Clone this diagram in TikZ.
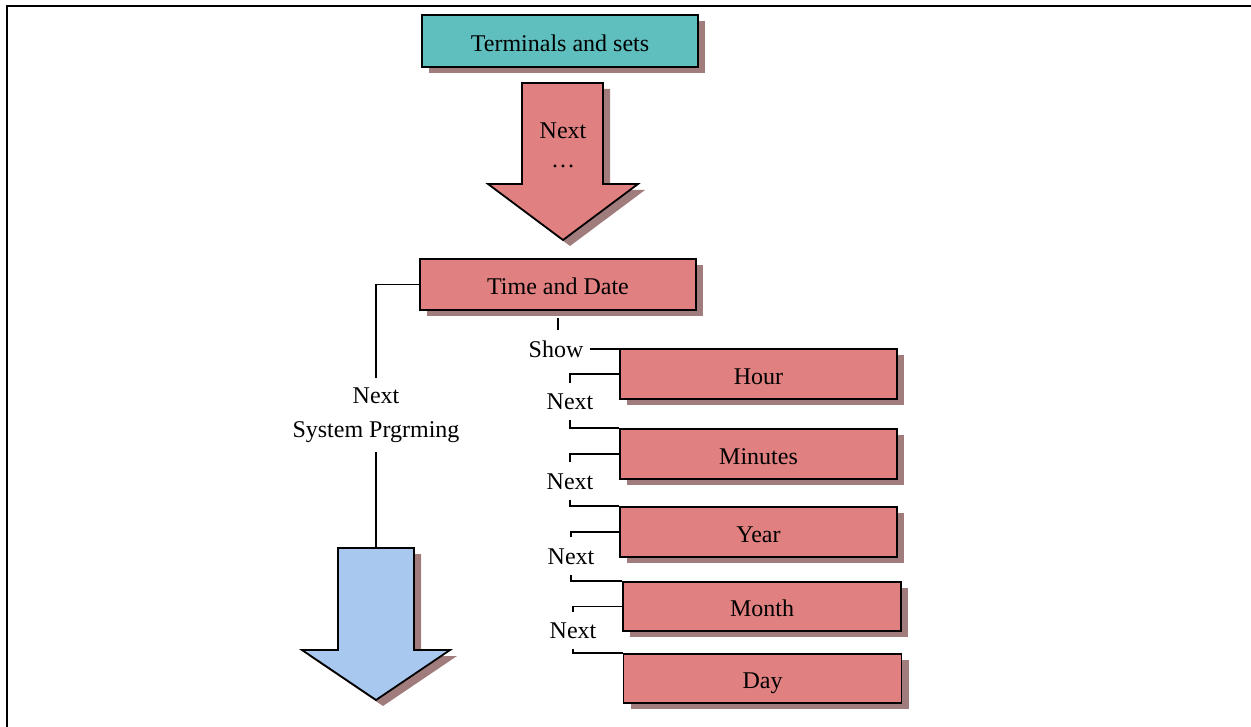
\documentclass[tikz,border=0pt]{standalone}
\usepackage{fontspec}
\setmainfont{Liberation Serif}
\usetikzlibrary{shadows}
\definecolor{tealbox}{HTML}{5FBFBF}
\definecolor{rosebox}{HTML}{E08080}
\definecolor{skyarrow}{HTML}{A8C8F0}
\definecolor{shadc}{HTML}{A07C7C}
\begin{document}
\begin{tikzpicture}[x=0.75pt,y=-0.75pt,
  lblfont/.style={font=\fontsize{18}{25.5}\selectfont},
  box/.style={draw=black, line width=1.35pt, fill=rosebox, inner sep=0pt, lblfont,
    text height=15.5pt, text depth=0pt,
    drop shadow={shadow xshift=5.25pt, shadow yshift=-4.5pt, opacity=1, fill=shadc}},
  lbl/.style={inner xsep=4.5pt, inner ysep=7.8pt, text height=12pt, text depth=0pt, lblfont},
  conn/.style={draw=black, line width=1.3pt},
  bigarrow/.style={draw=black, line width=1.35pt, line join=miter}]
\useasboundingbox (0,0) rectangle (1251,727);
\draw[line width=1.6pt] (7,727) -- (7,6) -- (1251,6);

% top box
\node[box, fill=tealbox, minimum width=207pt, minimum height=39pt] (term) at (560,41) {Terminals and sets};

% red arrow
\fill[shadc, shift={(7,6)}] (522,83) -- (603,83) -- (603,184) -- (638,184) -- (563,240) -- (488,184) -- (522,184) -- cycle;
\filldraw[bigarrow, fill=rosebox] (522,83) -- (603,83) -- (603,184) -- (638,184) -- (563,240) -- (488,184) -- (522,184) -- cycle;
\node[lblfont] (anext) at (563,131) {Next};
\node[lblfont] (adots) at (563,166) {\dots};

% time and date
\node[box, minimum width=207pt, minimum height=38.25pt] (time) at (558,284.5) {Time and Date};

% left branch
\node[lblfont, align=center, inner ysep=7pt] (nl) at (376,415) {Next\\System Prgrming};
\coordinate (bluetop) at (376,548);
\draw[conn] (time.west) -| (nl.north);
\draw[conn] (nl.south) -- (nl.south |- bluetop);

% blue arrow
\fill[shadc, shift={(7,6)}] (338,548) -- (414,548) -- (414,650) -- (450,650) -- (376,700) -- (302,650) -- (338,650) -- cycle;
\filldraw[bigarrow, fill=skyarrow] (338,548) -- (414,548) -- (414,650) -- (450,650) -- (376,700) -- (302,650) -- (338,650) -- cycle;

% right list
\node[box, minimum width=207.75pt, minimum height=37.5pt] (hour) at (758.5,374) {Hour};
\node[box, minimum width=207.75pt, minimum height=37.5pt] (minutes) at (758.5,454) {Minutes};
\node[box, minimum width=207.75pt, minimum height=37.5pt] (year) at (758.5,532) {Year};
\node[box, minimum width=208.5pt, minimum height=36.75pt] (month) at (762,606.5) {Month};
\node[box, minimum width=208.5pt, minimum height=36.75pt] (day) at (762.5,678.5) {Day};

\node[lbl] (show) at (556,349) {Show};
\draw[conn, shorten <=5pt] (time.south) -- (time.south |- show.north);
\draw[conn] (show.east) -- (show.east -| hour.west);

\node[lbl] (n1) at (570,401.5) {Next};
\node[lbl] (n2) at (570,481) {Next};
\node[lbl] (n3) at (571,556) {Next};
\node[lbl] (n4) at (573,630.5) {Next};

\draw[conn] (hour.west) -| (n1.north);
\draw[conn] (n1.south) |- (minutes.north west);
\draw[conn] (minutes.west) -| (n2.north);
\draw[conn] (n2.south) |- (year.north west);
\draw[conn] (year.west) -| (n3.north);
\draw[conn] (n3.south) |- (month.north west);
\draw[conn] (month.west) -| (n4.north);
\draw[conn] (n4.south) |- (day.north west);
\end{tikzpicture}
\end{document}
